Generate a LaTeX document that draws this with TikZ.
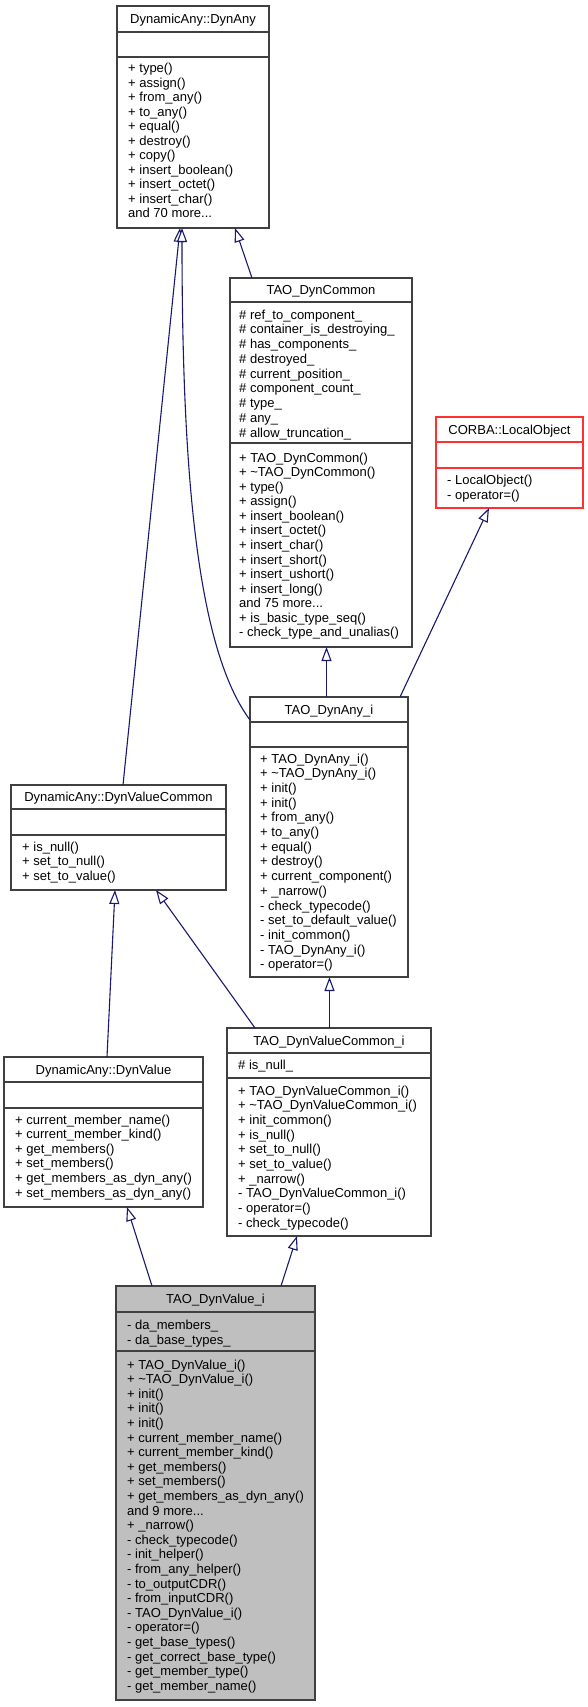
\documentclass[tikz,border=0pt]{standalone}
\usepackage{fontspec}
\setmainfont{Liberation Sans}
\usetikzlibrary{arrows.meta}
\definecolor{edgeblue}{HTML}{191970}
\definecolor{boxline}{HTML}{404040}
\definecolor{redline}{HTML}{FF3030}
\definecolor{grayfill}{HTML}{BFBFBF}
\tikzset{
 cls/.style={draw=boxline, line width=1.2pt, fill=white, inner sep=0pt, outer sep=0pt, anchor=north west},
 div/.style={draw=boxline, line width=1.2pt},
 mem/.style={anchor=base west, inner sep=0pt, font=\fontsize{13pt}{14.6pt}\selectfont},
 ttl/.style={anchor=base, inner sep=0pt, font=\fontsize{13pt}{14.6pt}\selectfont},
 inh/.style={draw=edgeblue, line width=1.1pt, -{Triangle[length=14pt,width=10pt,fill=white]}},
}
\newcommand\mydots{...}
\newcommand\classmembers[5]{%
  \foreach \t [count=\i from 0] in {#5} {\node[mem] (#1-\i) at (#2, {#3+\i*#4}) {\t};}}
\begin{document}
\begin{tikzpicture}[x=1pt,y=-1pt]
\fill[white] (0,0) rectangle (588,1707);
\useasboundingbox (0,0) rectangle (588,1707);

% DynamicAny::DynAny
\node[cls, minimum width=152pt, minimum height=222pt] (dynany) at (117,6) {};
\draw[div] (dynany.west |- 0,32) -- (dynany.east |- 0,32);
\draw[div] (dynany.west |- 0,57) -- (dynany.east |- 0,57);
\node[ttl] (dynany-t) at (193,23.5) {DynamicAny::DynAny};
\classmembers{dynany-m}{128}{73}{14.5}{+ type(), + assign(), + from\_any(), + to\_any(), + equal(), + destroy(), + copy(), + insert\_boolean(), + insert\_octet(), + insert\_char(), and 70 more\mydots}

% TAO_DynCommon
\node[cls, minimum width=182pt, minimum height=369pt] (dyncommon) at (230,278) {};
\draw[div] (dyncommon.west |- 0,302) -- (dyncommon.east |- 0,302);
\draw[div] (dyncommon.west |- 0,443) -- (dyncommon.east |- 0,443);
\node[ttl] (dyncommon-t) at (321,294.5) {TAO\_DynCommon};
\classmembers{dyncommon-a}{239}{319}{14.75}{\# ref\_to\_component\_, \# container\_is\_destroying\_, \# has\_components\_, \# destroyed\_, \# current\_position\_, \# component\_count\_, \# type\_, \# any\_, \# allow\_truncation\_}
\classmembers{dyncommon-m}{239}{462}{14.58}{+ TAO\_DynCommon(), + \textasciitilde TAO\_DynCommon(), + type(), + assign(), + insert\_boolean(), + insert\_octet(), + insert\_char(), + insert\_short(), + insert\_ushort(), + insert\_long(), and 75 more\mydots, + is\_basic\_type\_seq(), - check\_type\_and\_unalias()}

% CORBA::LocalObject
\node[cls, draw=redline, minimum width=147pt, minimum height=91pt] (corba) at (436,417) {};
\draw[div, draw=redline] (corba.west |- 0,442) -- (corba.east |- 0,442);
\draw[div, draw=redline] (corba.west |- 0,468) -- (corba.east |- 0,468);
\node[ttl] (corba-t) at (509.5,434) {CORBA::LocalObject};
\classmembers{corba-m}{447}{484.5}{14.6}{- LocalObject(), - operator=()}

% TAO_DynAny_i
\node[cls, minimum width=158pt, minimum height=280pt] (dynanyi) at (250,697) {};
\draw[div] (dynanyi.west |- 0,722) -- (dynanyi.east |- 0,722);
\draw[div] (dynanyi.west |- 0,747) -- (dynanyi.east |- 0,747);
\node[ttl] (dynanyi-t) at (329,714) {TAO\_DynAny\_i};
\classmembers{dynanyi-m}{260}{763}{14.7}{+ TAO\_DynAny\_i(), + \textasciitilde TAO\_DynAny\_i(), + init(), + init(), + from\_any(), + to\_any(), + equal(), + destroy(), + current\_component(), + \_narrow(), - check\_typecode(), - set\_to\_default\_value(), - init\_common(), - TAO\_DynAny\_i(), - operator=()}

% DynamicAny::DynValueCommon
\node[cls, minimum width=215pt, minimum height=105pt] (dvc) at (11,785) {};
\draw[div] (dvc.west |- 0,809) -- (dvc.east |- 0,809);
\draw[div] (dvc.west |- 0,835) -- (dvc.east |- 0,835);
\node[ttl] (dvc-t) at (118.5,801.5) {DynamicAny::DynValueCommon};
\classmembers{dvc-m}{22}{851}{14.8}{+ is\_null(), + set\_to\_null(), + set\_to\_value()}

% TAO_DynValueCommon_i
\node[cls, minimum width=204pt, minimum height=208pt] (dvci) at (227,1028) {};
\draw[div] (dvci.west |- 0,1053) -- (dvci.east |- 0,1053);
\draw[div] (dvci.west |- 0,1078) -- (dvci.east |- 0,1078);
\node[ttl] (dvci-t) at (329,1045) {TAO\_DynValueCommon\_i};
\classmembers{dvci-a}{238}{1069}{14.6}{\# is\_null\_}
\classmembers{dvci-m}{238}{1095}{14.67}{+ TAO\_DynValueCommon\_i(), + \textasciitilde TAO\_DynValueCommon\_i(), + init\_common(), + is\_null(), + set\_to\_null(), + set\_to\_value(), + \_narrow(), - TAO\_DynValueCommon\_i(), - operator=(), - check\_typecode()}

% DynamicAny::DynValue
\node[cls, minimum width=199pt, minimum height=150pt] (dv) at (4,1057) {};
\draw[div] (dv.west |- 0,1082) -- (dv.east |- 0,1082);
\draw[div] (dv.west |- 0,1108) -- (dv.east |- 0,1108);
\node[ttl] (dv-t) at (103.5,1074) {DynamicAny::DynValue};
\classmembers{dv-m}{15}{1124}{14.6}{+ current\_member\_name(), + current\_member\_kind(), + get\_members(), + set\_members(), + get\_members\_as\_dyn\_any(), + set\_members\_as\_dyn\_any()}

% TAO_DynValue_i
\node[cls, fill=grayfill, minimum width=199pt, minimum height=414pt] (dvi) at (116,1286) {};
\draw[div] (dvi.west |- 0,1312) -- (dvi.east |- 0,1312);
\draw[div] (dvi.west |- 0,1351) -- (dvi.east |- 0,1351);
\node[ttl] (dvi-t) at (215.5,1303.5) {TAO\_DynValue\_i};
\classmembers{dvi-a}{127}{1329.5}{14.6}{- da\_members\_, - da\_base\_types\_}
\classmembers{dvi-m}{127}{1369}{14.6}{+ TAO\_DynValue\_i(), + \textasciitilde TAO\_DynValue\_i(), + init(), + init(), + init(), + current\_member\_name(), + current\_member\_kind(), + get\_members(), + set\_members(), + get\_members\_as\_dyn\_any(), and 9 more\mydots, + \_narrow(), - check\_typecode(), - init\_helper(), - from\_any\_helper(), - to\_outputCDR(), - from\_inputCDR(), - TAO\_DynValue\_i(), - operator=(), - get\_base\_types(), - get\_correct\_base\_type(), - get\_member\_type(), - get\_member\_name()}

% inheritance connectors
\draw[inh] ([xshift=22pt]dyncommon.north west) -- ([xshift=118pt]dynany.south west);
\draw[inh] ([xshift=112pt]dvc.north west) -- ([xshift=63pt]dynany.south west);
\draw[inh] ([yshift=-23pt]dynanyi.north west) .. controls (198,650) and (182,480) .. ([xshift=65pt]dynany.south west);
\draw[inh] ([xshift=76.5pt]dynanyi.north west) -- ([xshift=96.5pt]dyncommon.south west);
\draw[inh] ([xshift=150pt]dynanyi.north west) -- ([xshift=53pt]corba.south west);
\draw[inh] ([xshift=102.5pt]dvci.north west) -- ([xshift=79.5pt]dynanyi.south west);
\draw[inh] ([xshift=28pt]dvci.north west) -- ([xshift=145pt]dvc.south west);
\draw[inh] ([xshift=103pt]dv.north west) -- ([xshift=104pt]dvc.south west);
\draw[inh] ([xshift=36pt]dvi.north west) -- ([xshift=123pt]dv.south west);
\draw[inh] ([xshift=165pt]dvi.north west) -- ([xshift=70pt]dvci.south west);
\end{tikzpicture}
\end{document}
